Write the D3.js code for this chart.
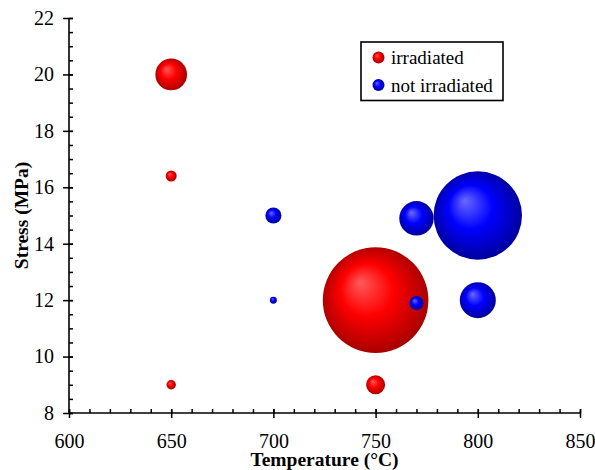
<!DOCTYPE html>
<html>
<head>
<meta charset="utf-8">
<script src="https://cdn.jsdelivr.net/npm/d3@7"></script>
<style>
body { margin: 0; background: #fff; }
svg text { font-family: "Liberation Serif", "Times New Roman", serif; fill: #000; }
</style>
</head>
<body>
<div class="bubble-chart"></div>
<script>
// irradiated series
const irrTemp = [650, 650, 650, 750, 750];
const irrStress = [20, 16.4, 9, 12, 9];
const irrSize = [30, 10.4, 8.9, 100, 18];

// not irradiated series
const notTemp = [700, 700, 770, 770, 800, 800];
const notStress = [15, 12, 14.9, 11.9, 15, 12];
const notSize = [15.2, 6.6, 32.6, 13.3, 83.7, 34.1];

const xTicks = [600, 650, 700, 750, 800, 850];
const yTicks = [8, 10, 12, 14, 16, 18, 20, 22];
const seriesNames = ['irradiated', 'not irradiated'];

const w = 595;
const h = 470;
const svg = d3.select('.bubble-chart')
    .append('svg')
    .attr('width', w)
    .attr('height', h);

const x = d3.scaleLinear().domain([600, 850]).range([69, 580]);
const y = d3.scaleLinear().domain([8, 22]).range([413, 18]);
const r = d3.scaleLinear().domain([0, 100]).range([0, 52.8]);

// sphere-like fills
const defs = svg.append('defs');
function ball(id, light, mid, dark) {
  const g = defs.append('radialGradient')
      .attr('id', id)
      .attr('cx', '50%').attr('cy', '50%').attr('r', '55%')
      .attr('fx', '35%').attr('fy', '33%');
  g.append('stop').attr('offset', '0%').attr('stop-color', light);
  g.append('stop').attr('offset', '45%').attr('stop-color', mid);
  g.append('stop').attr('offset', '100%').attr('stop-color', dark);
}
ball('red', '#ff5a5a', '#ff0000', '#9c0000');
ball('blue', '#6a6aff', '#0000ff', '#000090');

const irr = irrTemp.map((t, i) => ({t: t, s: irrStress[i], z: irrSize[i]}));
const notIrr = notTemp.map((t, i) => ({t: t, s: notStress[i], z: notSize[i]}));

// axes
const xAxis = svg.append('g').attr('transform', 'translate(0,413)');
xAxis.call(d3.axisBottom(x).tickValues(d3.range(600, 851, 10)).tickSize(-4).tickFormat(''))
    .call(g => g.select('.domain').remove());
xAxis.append('g').call(d3.axisBottom(x).tickValues(xTicks).tickSize(5).tickFormat(''))
    .call(g => g.select('.domain').remove());
xAxis.append('g').call(d3.axisBottom(x).tickValues(xTicks).tickSize(-4).tickPadding(21).tickFormat(d3.format('d')));
xAxis.selectAll('line').attr('stroke', '#000').attr('stroke-width', 1.5);
xAxis.selectAll('.domain').attr('stroke', '#000').attr('stroke-width', 1.6).attr('d', 'M69,0H580');
xAxis.selectAll('text').attr('font-size', 20);

const yAxis = svg.append('g').attr('transform', 'translate(69,0)');
yAxis.call(d3.axisLeft(y).tickValues(d3.range(8, 22.01, 0.5)).tickSize(-4).tickFormat(''))
    .call(g => g.select('.domain').remove());
yAxis.append('g').call(d3.axisLeft(y).tickValues(yTicks).tickSize(6).tickPadding(9).tickFormat(d3.format('d')));
yAxis.selectAll('line').attr('stroke', '#000').attr('stroke-width', 1.5);
yAxis.selectAll('.domain').attr('stroke', '#000').attr('stroke-width', 1.6).attr('d', 'M0,18V413');
yAxis.selectAll('text').attr('font-size', 20);
yAxis.append('g').call(d3.axisLeft(y).tickValues(yTicks).tickSize(-4).tickFormat(''))
    .call(g => g.select('.domain').remove())
    .selectAll('line').attr('stroke', '#000').attr('stroke-width', 1.5);

// axis titles
svg.append('text')
    .attr('x', 324.5)
    .attr('y', 466)
    .attr('text-anchor', 'middle')
    .attr('font-size', 19.5)
    .attr('font-weight', 'bold')
    .text('Temperature (°C)');

svg.append('text')
    .attr('transform', 'translate(27.5,215.5) rotate(-90)')
    .attr('text-anchor', 'middle')
    .attr('font-size', 19.5)
    .attr('font-weight', 'bold')
    .text('Stress (MPa)');

// bubbles
svg.selectAll('circle.irr')
    .data(irr)
    .enter()
    .append('circle')
    .attr('class', 'irr')
    .attr('cx', d => x(d.t))
    .attr('cy', d => y(d.s))
    .attr('r', d => r(d.z))
    .attr('fill', 'url(#red)');

svg.selectAll('circle.not')
    .data(notIrr)
    .enter()
    .append('circle')
    .attr('class', 'not')
    .attr('cx', d => x(d.t))
    .attr('cy', d => y(d.s))
    .attr('r', d => r(d.z))
    .attr('fill', 'url(#blue)');

// legend
const legend = svg.append('g').attr('transform', 'translate(361,42)');
legend.append('rect')
    .attr('width', 142)
    .attr('height', 58.5)
    .attr('fill', '#fff')
    .attr('stroke', '#000')
    .attr('stroke-width', 1.6);
legend.selectAll('circle')
    .data(seriesNames)
    .enter()
    .append('circle')
    .attr('cx', 17.5)
    .attr('cy', (d, i) => 15.5 + i * 27.5)
    .attr('r', 6)
    .attr('fill', (d, i) => i == 0 ? 'url(#red)' : 'url(#blue)');
legend.selectAll('text')
    .data(seriesNames)
    .enter()
    .append('text')
    .attr('x', 30)
    .attr('y', (d, i) => 15.5 + i * 27.5)
    .attr('dy', 6.5)
    .attr('font-size', 19)
    .text(d => d);
</script>
</body>
</html>
